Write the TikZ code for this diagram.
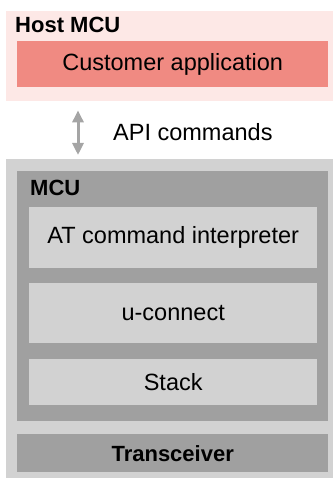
\documentclass[tikz,border=0pt]{standalone}
\usepackage{fontspec}
\setmainfont{Liberation Sans}
\usetikzlibrary{arrows.meta}
\definecolor{hostbg}{RGB}{253,232,230}
\definecolor{custfill}{RGB}{240,138,130}
\definecolor{lightgray}{RGB}{210,210,210}
\definecolor{darkgray}{RGB}{160,160,160}
\definecolor{arrowgray}{RGB}{165,165,165}
\tikzset{
  x=1pt, y=-1pt,
  blk/.style={draw=none, inner sep=0pt, anchor=north west, font=\fontsize{23.5}{28}\selectfont, text=black},
  ttl/.style={inner sep=0pt, anchor=base west, font=\fontsize{22}{26}\selectfont\bfseries, text=black},
  dblarrow/.style={draw=arrowgray, line width=3pt, {Triangle[width=11pt,length=12pt]}-{Triangle[width=11pt,length=12pt]}},
}
\begin{document}
\begin{tikzpicture}
\useasboundingbox (0,0) rectangle (333,478);
% Host MCU
\node[blk, fill=hostbg, minimum width=327pt, minimum height=90pt] (host) at (6,11) {};
\node[ttl] (hostlbl) at (15,33) {Host MCU};
\node[blk, fill=custfill, minimum width=311pt, minimum height=46pt] (cust) at (17,41) {};
\node[inner sep=0pt, font=\fontsize{23.5}{28}\selectfont] (custlbl) at (cust.center) {Customer application};
% Module
\node[blk, fill=lightgray, minimum width=327pt, minimum height=319pt] (outer) at (6,159) {};
\node[blk, fill=darkgray, minimum width=311pt, minimum height=250pt] (mcu) at (17,171) {};
\node[ttl] (mculbl) at (30,196) {MCU};
\node[blk, fill=lightgray, minimum width=288pt, minimum height=61pt] (at) at (29,207) {};
\node[inner sep=0pt, font=\fontsize{23.5}{28}\selectfont] (atlbl) at (at.center) {AT command interpreter};
\node[blk, fill=lightgray, minimum width=288pt, minimum height=60pt] (uc) at (29,283) {};
\node[inner sep=0pt, font=\fontsize{23.5}{28}\selectfont] (uclbl) at (uc.center) {u-connect};
\node[blk, fill=lightgray, minimum width=288pt, minimum height=46pt] (stack) at (29,359) {};
\node[inner sep=0pt, font=\fontsize{23.5}{28}\selectfont] (stacklbl) at (stack.center) {Stack};
\node[blk, fill=darkgray, minimum width=311pt, minimum height=38pt] (trans) at (17,434) {};
\node[inner sep=0pt, font=\fontsize{22}{26}\selectfont\bfseries] (translbl) at (trans.center) {Transceiver};
% Arrow
\coordinate (ax) at (78,0);
\draw[dblarrow, shorten <=9pt, shorten >=4pt] (host.south -| ax) -- (outer.north -| ax);
\node[inner sep=0pt, anchor=west, font=\fontsize{23.5}{28}\selectfont] (api) at (113,132) {API commands};
\end{tikzpicture}
\end{document}
